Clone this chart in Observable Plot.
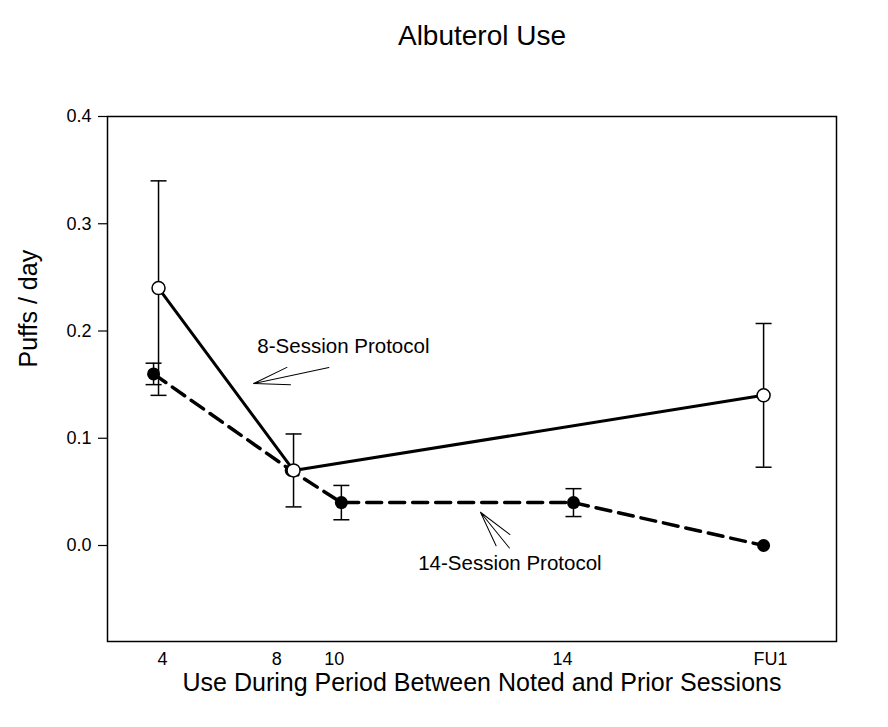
<!DOCTYPE html>
<html>
<head>
<meta charset="utf-8">
<script src="https://cdn.jsdelivr.net/npm/d3@7"></script>
<script src="https://cdn.jsdelivr.net/npm/@observablehq/plot@0.6"></script>
<style>
  html, body { margin: 0; padding: 0; background: #fff; }
  #chart svg { display: block; }
</style>
</head>
<body>
<div id="chart"></div>
<script>
// ---- data (x = position along the period axis) ----
const xTickPos = [1.89, 5.8, 7.78, 15.6, 22.74];
const xTickLabels = ["4", "8", "10", "14", "FU1"];

const x8 = [1.75, 6.38, 22.5];
const mean8 = [0.24, 0.07, 0.14];
const err8 = [0.10, 0.034, 0.067];

const x14 = [1.58, 6.3, 8.02, 15.98, 22.5];
const mean14 = [0.16, 0.07, 0.04, 0.04, 0.0];
const err14 = [0.01, null, 0.016, 0.013, null];

const yTicks = [0, 0.1, 0.2, 0.3, 0.4];

const notes = [
  {label: "8-Session Protocol", x: 8.09, y: 0.186},
  {label: "14-Session Protocol", x: 13.8, y: -0.017}
];
// arrow tips (data coords), shaft length and direction
const pointers = [
  {x: 5.01, y: 0.151, length: 77, rotate: -102},
  {x: 12.79, y: 0.031, length: 46, rotate: -39}
];

// ---- tables built from the arrays ----
const s8 = x8.map((x, i) => ({x, y: mean8[i], e: err8[i]}));
const s14 = x14.map((x, i) => ({x, y: mean14[i], e: err14[i]}));
const bars = [...s14, ...s8].filter(d => d.e != null)
  .map(d => ({x: d.x, lo: d.y - d.e, hi: d.y + d.e}));
const caps = bars.flatMap(d => [{x: d.x, y: d.lo}, {x: d.x, y: d.hi}]);
const tickLabel = new Map(xTickPos.map((p, i) => [p, xTickLabels[i]]));

const capSymbol = {draw(ctx) { ctx.moveTo(-8, 0); ctx.lineTo(8, 0); }};
const openArrow = {
  draw(ctx, l) {
    const h = 37, a = 14 * Math.PI / 180;
    ctx.moveTo(0, 0); ctx.lineTo(0, -l);
    ctx.moveTo(-h * Math.sin(a), -l + h * Math.cos(a));
    ctx.lineTo(0, -l);
    ctx.lineTo(h * Math.sin(a), -l + h * Math.cos(a));
  }
};

const chart = Plot.plot({
  width: 888,
  height: 727,
  marginLeft: 107,
  marginRight: 52,
  marginTop: 116,
  marginBottom: 86,
  style: {fontFamily: "'Liberation Sans', Arial, sans-serif", color: "black", background: "white"},
  x: {domain: [0, 25]},
  y: {domain: [-0.0895, 0.4]},
  length: {type: "identity"},
  marks: [
    Plot.frame({stroke: "black", strokeWidth: 1.5}),
    Plot.axisY({ticks: yTicks, tickFormat: ".1f", tickSize: 9, tickPadding: 7, fontSize: 18, label: null, stroke: "black", strokeWidth: 1.2}),
    Plot.axisX({ticks: xTickPos, tickFormat: d => tickLabel.get(d), tickSize: 0, tickPadding: 11, fontSize: 18, label: null}),
    // error bars
    Plot.ruleX(bars, {x: "x", y1: "lo", y2: "hi", stroke: "black", strokeWidth: 1.5}),
    Plot.dot(caps, {x: "x", y: "y", symbol: capSymbol, fill: "none", stroke: "black", strokeWidth: 1.5}),
    // 14-session protocol
    Plot.line(s14, {x: "x", y: "y", stroke: "black", strokeWidth: 3.5, strokeDasharray: "15,8"}),
    Plot.dot(s14, {x: "x", y: "y", r: 6.5, fill: "black", stroke: "none"}),
    // 8-session protocol
    Plot.line(s8, {x: "x", y: "y", stroke: "black", strokeWidth: 3}),
    Plot.dot(s8, {x: "x", y: "y", r: 6.5, fill: "white", stroke: "black", strokeWidth: 1.5}),
    // annotations
    Plot.vector(pointers, {x: "x", y: "y", length: "length", rotate: "rotate", anchor: "end", shape: openArrow, stroke: "black", strokeWidth: 1}),
    Plot.text(notes, {x: "x", y: "y", text: "label", fontSize: 20.5, fill: "black"}),
    // titles
    Plot.text(["Albuterol Use"], {frameAnchor: "top", dx: 10, dy: -91, fontSize: 28, fill: "black"}),
    Plot.text(["Use During Period Between Noted and Prior Sessions"], {frameAnchor: "bottom", dx: 10, dy: 49, fontSize: 25, fill: "black"}),
    Plot.text(["Puffs / day"], {frameAnchor: "left", rotate: -90, dx: -79, dy: -11.5, fontSize: 25, fill: "black"})
  ]
});
// enlarge the axis tick labels
const tickTexts = new Set([...xTickLabels, ...yTicks.map(d => d.toFixed(1))]);
chart.querySelectorAll("text").forEach(t => {
  if (tickTexts.has(t.textContent.trim())) {
    t.style.fontSize = "18px";
    t.setAttribute("font-size", "18");
  }
});
chart.querySelectorAll("g").forEach(g => {
  const lab = g.getAttribute("aria-label") || "";
  if (lab.includes("tick label")) { g.setAttribute("font-size", "18"); g.style.fontSize = "18px"; }
});
document.getElementById("chart").append(chart);
</script>
</body>
</html>
